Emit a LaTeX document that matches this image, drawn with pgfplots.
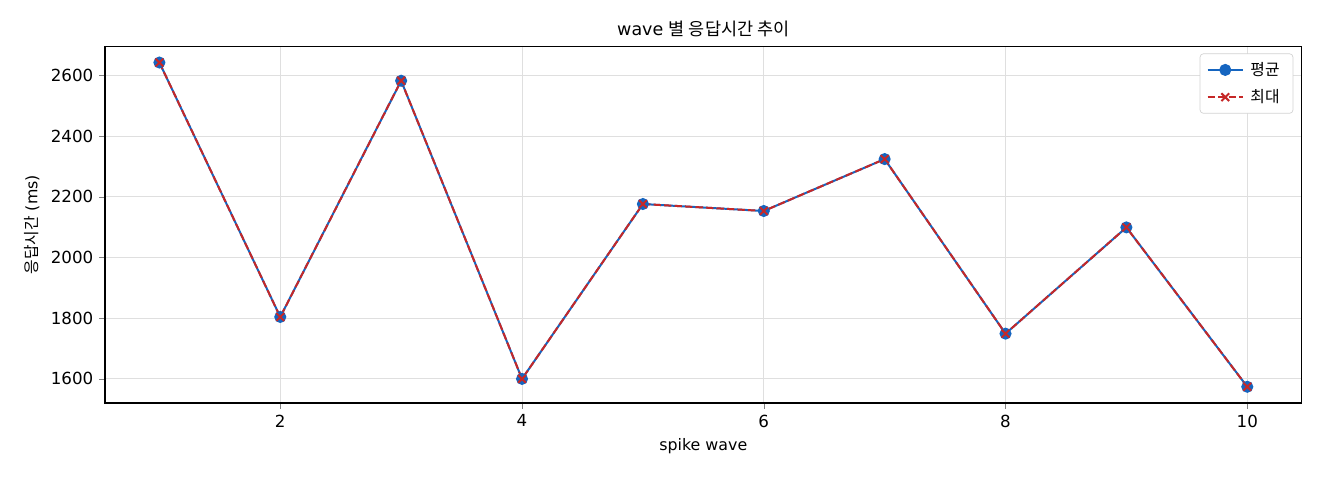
\documentclass[border=0pt]{standalone}
\usepackage{pgfplots}
\pgfplotsset{compat=1.18}
\usepackage{fontspec}
\setmainfont{DejaVu Sans}
\newfontfamily\cjk{Noto Sans CJK KR}
\definecolor{avgblue}{HTML}{1565C0}
\definecolor{maxred}{HTML}{C62828}
\begin{document}
\begin{tikzpicture}[font=\fontsize{10}{12}\selectfont]
  \begin{axis}[
      scale only axis,
      width=718pt, height=214pt,
      xmin=0.55, xmax=10.45,
      ymin=1520.6, ymax=2695.4,
      xtick={2,4,6,8,10},
      ytick={1600,1800,2000,2200,2400,2600},
      /pgf/number format/assume math mode=true,
      /pgf/number format/1000 sep={},
      tick align=outside, tick pos=left,
      major tick length=3.5pt,
      grid=major,
      major grid style={draw=gray!25, line width=0.6pt},
      axis line style={line width=0.65pt},
      title={wave {\cjk 별 응답시간 추이}},
      title style={font=\fontsize{10.5}{13}\selectfont, yshift=-4pt},
      xlabel={spike wave},
      xlabel style={font=\fontsize{9.5}{11}\selectfont},
      ylabel={{\cjk 응답시간} (ms)},
      ylabel style={font=\fontsize{9.5}{11}\selectfont},
      legend style={at={(0.993,0.98)}, anchor=north east,
        draw=gray!35, rounded corners=2pt,
        font=\fontsize{9.5}{11}\selectfont\cjk,
        row sep=3pt, inner xsep=4pt, inner ysep=3pt,
        nodes={inner xsep=4pt}},
      legend cell align=left,
      legend image code/.code={
        \draw[mark repeat=2, mark phase=2]
          plot coordinates {(0cm,0cm) (0.37cm,0cm) (0.74cm,0cm)};},
    ]
    \coordinate (sw) at (rel axis cs:0,0);
    \addplot[avgblue, line width=1.2pt, mark=*, mark size=3pt]
      coordinates {
        (1,2642) (2,1804) (3,2582) (4,1600) (5,2176)
        (6,2153) (7,2324) (8,1749) (9,2099) (10,1574)};
    \addplot[maxred, line width=1.2pt, dash pattern=on 4.4pt off 1.9pt,
             mark=x, mark size=3.3pt, mark options={solid}]
      coordinates {
        (1,2642) (2,1804) (3,2582) (4,1600) (5,2176)
        (6,2153) (7,2324) (8,1749) (9,2099) (10,1574)};
    \legend{평균, 최대}
  \end{axis}
  \path (sw) ++(-63pt,-46.2pt) rectangle ++(792pt,288pt);
\end{tikzpicture}
\end{document}
